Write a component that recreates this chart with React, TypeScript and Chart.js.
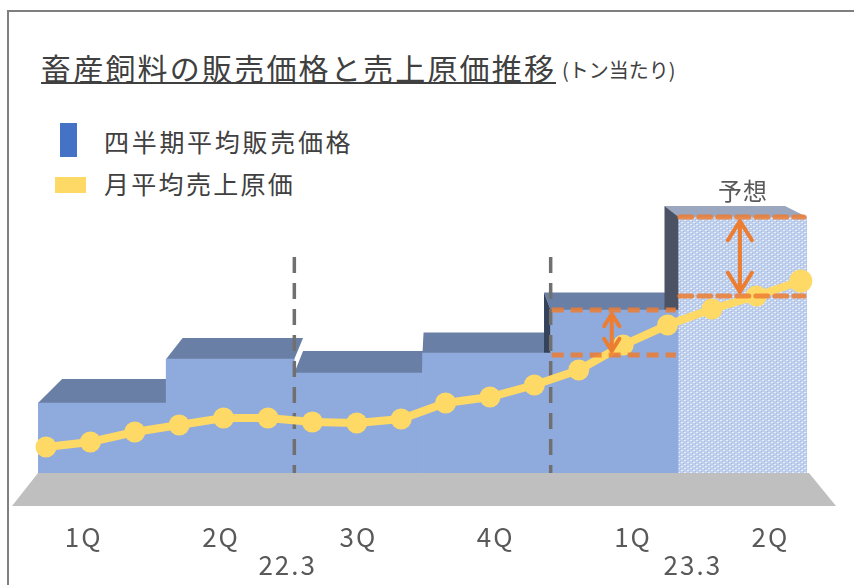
import React, { useEffect, useRef } from 'react';
import { Chart, registerables } from 'chart.js';

Chart.register(...registerables);

// ---- text ----
const titleText = '畜産飼料の販売価格と売上原価推移';
const unitText = '(トン当たり)';
const legendPrice = '四半期平均販売価格';
const legendCost = '月平均売上原価';
const forecastText = '予想';

// ---- data (index) ----
const quarterLabels = ['1Q', '2Q', '3Q', '4Q', '1Q', '2Q'];
const fiscalYearLabels = ['22.3', '23.3'];
const quarterlyPrice = [70, 114, 100, 120, 163, 256];
const months = [
  '21.4', '21.5', '21.6', '21.7', '21.8', '21.9', '21.10', '21.11', '21.12',
  '22.1', '22.2', '22.3', '22.4', '22.5', '22.6', '22.7', '22.8', '22.9',
];
const monthlyCost = [26, 31, 41, 48, 55, 55, 51, 50, 54, 70, 76, 88, 103, 128, 148, 164, 177, 192];
const spreadTop = [null, null, null, null, 163, 256];
const spreadBase = [null, null, null, null, 118, 177];
const forecastIndex = 5;

const FONT = '"Noto Sans CJK JP", "Noto Sans", sans-serif';
const BAR_FRONT = '#8faadc';
const BAR_TOP = '#6a7fa6';
const COST_COLOR = '#ffd966';
const ORANGE = '#ed7d31';

function makePattern(): CanvasPattern | string {
  const c = document.createElement('canvas');
  c.width = 6;
  c.height = 4;
  const g = c.getContext('2d');
  if (!g) return '#c2d2ee';
  g.fillStyle = '#bdcfec';
  g.fillRect(0, 0, 6, 4);
  g.fillStyle = '#eaf0fa';
  g.fillRect(0, 0, 2, 1);
  g.fillRect(3, 2, 2, 1);
  g.fillStyle = '#a9bbdf';
  g.fillRect(2, 1, 1, 1);
  g.fillRect(5, 3, 1, 1);
  const p = g.createPattern(c, 'repeat');
  return p || '#c2d2ee';
}

// perspective offset of the back edge of a box top
const persp = (px: number, py: number): [number, number] => [px + 0.06 * (440 - px), py - 0.07 * (py - 60)];

function poly(ctx: CanvasRenderingContext2D, pts: [number, number][]) {
  ctx.beginPath();
  pts.forEach(([x, y], i) => (i === 0 ? ctx.moveTo(x, y) : ctx.lineTo(x, y)));
  ctx.closePath();
  ctx.fill();
}

function barRects(chart: any) {
  const meta = chart.getDatasetMeta(0);
  return meta.data.map((el: any) => {
    const p = el.getProps(['x', 'y', 'width'], true);
    return { x0: p.x - p.width / 2, x1: p.x + p.width / 2, cx: p.x, top: p.y };
  });
}

const decoPlugin = {
  id: 'deco3d',
  beforeDatasetsDraw(chart: any) {
    const { ctx, chartArea: ca } = chart;
    const base = chart.scales.y.getPixelForValue(0);
    ctx.save();
    // floor
    ctx.fillStyle = '#bfbfbf';
    poly(ctx, [
      [ca.left, base],
      [ca.right + 2, base],
      [ca.right + 29, base + 33],
      [ca.left - 26, base + 33],
    ]);
    const rects = barRects(chart);
    // top faces
    rects.forEach((r: any, i: number) => {
      const [bx0, by] = persp(r.x0, r.top);
      const [bx1] = persp(r.x1, r.top);
      ctx.fillStyle = i === forecastIndex ? '#9aa7bf' : BAR_TOP;
      poly(ctx, [
        [r.x0, r.top],
        [r.x1, r.top],
        [bx1, by],
        [bx0, by],
      ]);
    });
    // side faces
    rects.forEach((r: any, i: number) => {
      if (i === 0) return;
      const [bx, by] = persp(r.x0, r.top);
      if (bx >= r.x0 || r.top >= rects[i - 1].top) return;
      ctx.fillStyle = i === forecastIndex ? '#4b5264' : '#34425c';
      poly(ctx, [
        [r.x0, r.top],
        [bx, by],
        [bx, base],
        [r.x0, base],
      ]);
    });
    ctx.restore();
  },
  afterDatasetDraw(chart: any, args: any) {
    if (args.index !== 0) return;
    const { ctx } = chart;
    const xs = chart.scales.x;
    const ys = chart.scales.y;
    const base = ys.getPixelForValue(0);
    const topY = ys.getPixelForValue(216);
    ctx.save();
    ctx.strokeStyle = '#707070';
    ctx.lineWidth = 3.5;
    ctx.setLineDash([16, 10]);
    [1.5, 3.5].forEach((v) => {
      const x = xs.getPixelForValue(v);
      ctx.beginPath();
      ctx.moveTo(x, topY);
      ctx.lineTo(x, base);
      ctx.stroke();
    });
    ctx.restore();
  },
  afterDatasetsDraw(chart: any) {
    const { ctx, chartArea: ca } = chart;
    const xs = chart.scales.x;
    const ys = chart.scales.y;
    const base = ys.getPixelForValue(0);
    const rects = barRects(chart);
    ctx.save();
    // spread lines and arrows
    rects.forEach((r: any, i: number) => {
      const t = spreadTop[i];
      const b = spreadBase[i];
      if (t == null || b == null) return;
      const y1 = ys.getPixelForValue(t);
      const y2 = ys.getPixelForValue(b);
      ctx.strokeStyle = 'rgba(237,125,49,0.85)';
      ctx.lineWidth = 5;
      ctx.setLineDash([12, 7]);
      [y1, y2].forEach((yy) => {
        ctx.beginPath();
        ctx.moveTo(r.x0 + 1, yy);
        ctx.lineTo(r.x1 - 3, yy);
        ctx.stroke();
      });
      ctx.setLineDash([]);
      const ax = r.cx - 3;
      const len = y2 - y1;
      const hw = Math.min(12, len * 0.17);
      const hh = hw * 1.6;
      ctx.strokeStyle = ORANGE;
      ctx.lineWidth = 4;
      ctx.lineCap = 'round';
      ctx.lineJoin = 'round';
      ctx.beginPath();
      ctx.moveTo(ax, y1 + 4);
      ctx.lineTo(ax, y2 - 4);
      ctx.moveTo(ax - hw, y1 + 4 + hh);
      ctx.lineTo(ax, y1 + 4);
      ctx.lineTo(ax + hw, y1 + 4 + hh);
      ctx.moveTo(ax - hw, y2 - 4 - hh);
      ctx.lineTo(ax, y2 - 4);
      ctx.lineTo(ax + hw, y2 - 4 - hh);
      ctx.stroke();
    });
    // forecast label
    const fr = rects[forecastIndex];
    ctx.fillStyle = '#595959';
    ctx.font = `24px ${FONT}`;
    ctx.textAlign = 'center';
    ctx.textBaseline = 'middle';
    (ctx as any).letterSpacing = '1px';
    ctx.fillText(forecastText, fr.cx, fr.top - 26);
    // axis labels projected on floor front edge
    const fl = ca.left - 26;
    const fr2 = ca.right + 29;
    const floorX = (px: number) => fl + ((px - ca.left) * (fr2 - fl)) / (ca.right - ca.left);
    ctx.font = `26px ${FONT}`;
    (ctx as any).letterSpacing = '2px';
    quarterLabels.forEach((lab, i) => {
      ctx.fillText(lab, floorX(xs.getPixelForValue(i)) + 3, base + 64);
    });
    const yearAt = [1.5, 4.45];
    fiscalYearLabels.forEach((lab, i) => {
      ctx.fillText(lab, floorX(xs.getPixelForValue(yearAt[i])) + 1, base + 92);
    });
    ctx.restore();
  },
};

export default function App() {
  const ref = useRef<HTMLCanvasElement | null>(null);
  useEffect(() => {
    if (!ref.current) return;
    const pattern = makePattern();
    const chart = new Chart(ref.current, {
      type: 'bar',
      data: {
        labels: quarterLabels,
        datasets: [
          {
            type: 'bar',
            label: legendPrice,
            data: quarterlyPrice,
            backgroundColor: quarterlyPrice.map((_, i) => (i === forecastIndex ? pattern : BAR_FRONT)) as any,
            borderWidth: 0,
            barPercentage: 1,
            categoryPercentage: 1,
            grouped: false,
            order: 2,
            xAxisID: 'x',
          } as any,
          {
            type: 'line',
            label: legendCost,
            data: monthlyCost.map((v, i) => ({ x: i, y: v, m: months[i] })) as any,
            xAxisID: 'x2',
            borderColor: COST_COLOR,
            backgroundColor: COST_COLOR,
            borderWidth: 8,
            pointRadius: monthlyCost.map((_, i) => (i === monthlyCost.length - 1 ? 11.5 : 10.5)),
            pointBorderWidth: 0,
            pointBackgroundColor: COST_COLOR,
            tension: 0,
            clip: false as any,
            order: 1,
          } as any,
        ],
      },
      options: {
        responsive: false,
        animation: false,
        devicePixelRatio: 1,
        layout: { padding: { left: 38, right: 47, top: 173, bottom: 112 } },
        plugins: {
          legend: { display: false },
          title: { display: false },
          tooltip: { enabled: false },
        },
        scales: {
          x: { type: 'category', display: false, offset: true },
          x2: { type: 'linear', display: false, offset: false, min: -0.18, max: 17.14 },
          y: { display: false, min: 0, max: 300 },
        },
      },
      plugins: [decoPlugin],
    });
    return () => chart.destroy();
  }, []);

  return (
    <div
      style={{
        position: 'absolute',
        left: 0,
        top: 0,
        width: 854,
        height: 585,
        overflow: 'hidden',
        background: '#ffffff',
        fontFamily: FONT,
      }}
    >
      <div
        style={{
          position: 'absolute',
          left: 7,
          top: 10,
          right: 0,
          bottom: 0,
          borderTop: '2px solid #7f7f7f',
          borderLeft: '2px solid #7f7f7f',
        }}
      />
      <div
        style={{
          position: 'absolute',
          left: 41,
          top: 49,
          fontSize: 30,
          lineHeight: '36px',
          letterSpacing: '2.2px',
          color: '#404040',
          whiteSpace: 'nowrap',
        }}
      >
        {titleText}
      </div>
      <div style={{ position: 'absolute', left: 41, top: 82, width: 515, height: 2, background: '#404040' }} />
      <div
        style={{
          position: 'absolute',
          left: 562,
          top: 58,
          fontSize: 20,
          lineHeight: '24px',
          color: '#404040',
          whiteSpace: 'nowrap',
        }}
      >
        {unitText}
      </div>
      <div style={{ position: 'absolute', left: 60, top: 123, width: 17, height: 34, background: '#4472c4' }} />
      <div
        style={{
          position: 'absolute',
          left: 104,
          top: 126,
          fontSize: 25,
          lineHeight: '30px',
          letterSpacing: '2.7px',
          color: '#404040',
          whiteSpace: 'nowrap',
        }}
      >
        {legendPrice}
      </div>
      <div style={{ position: 'absolute', left: 55, top: 177, width: 31, height: 16, background: COST_COLOR }} />
      <div
        style={{
          position: 'absolute',
          left: 104,
          top: 168,
          fontSize: 25,
          lineHeight: '30px',
          letterSpacing: '2.3px',
          color: '#404040',
          whiteSpace: 'nowrap',
        }}
      >
        {legendCost}
      </div>
      <canvas
        ref={ref}
        width={854}
        height={585}
        style={{ position: 'absolute', left: 0, top: 0, width: 854, height: 585 }}
      />
    </div>
  );
}
